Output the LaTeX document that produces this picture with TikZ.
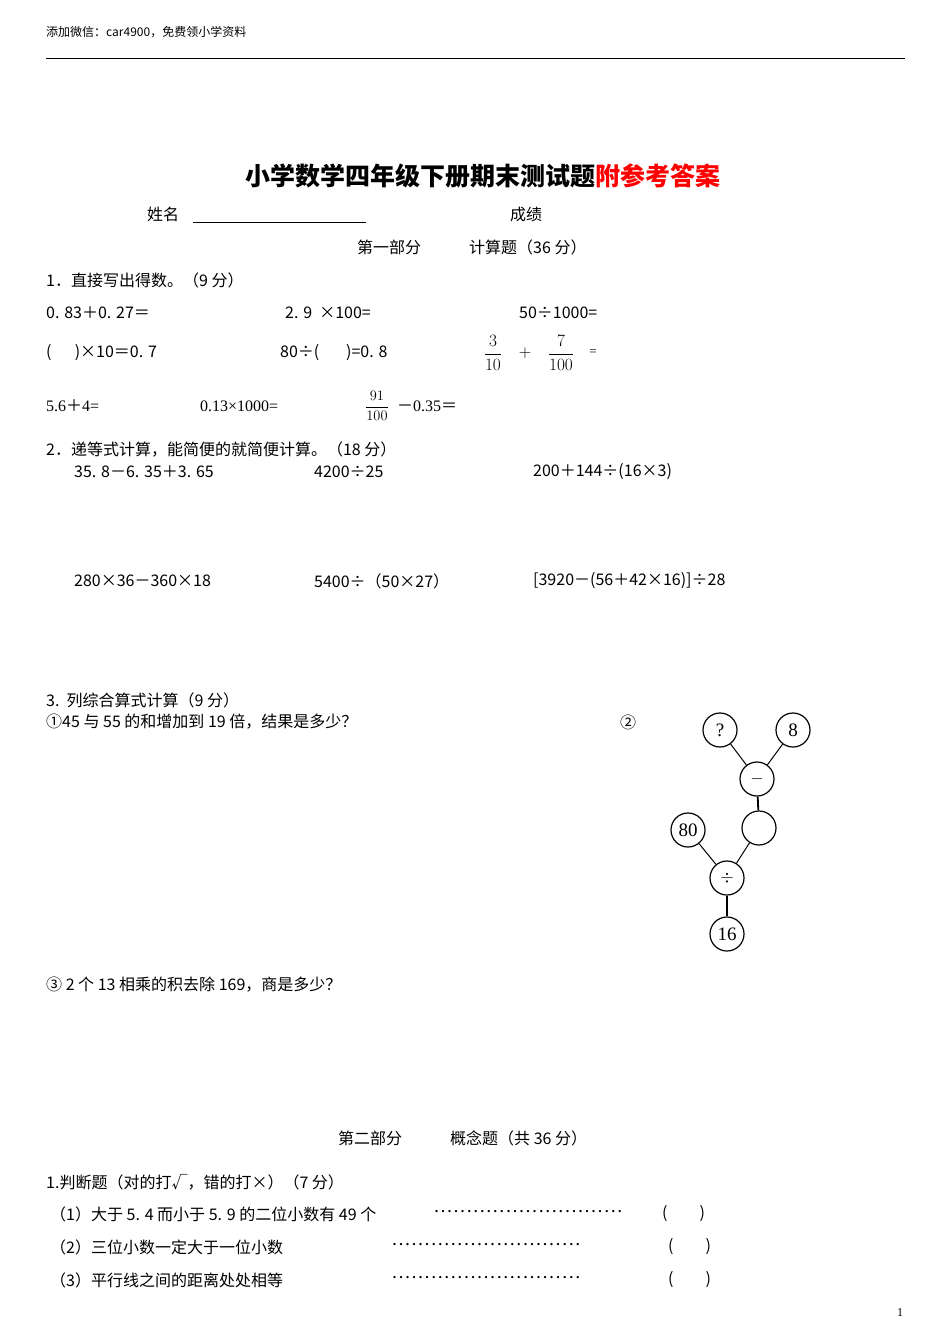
\documentclass[tikz,border=0pt]{standalone}
\usepackage{fontspec}
\setmainfont{Liberation Serif}
\newfontfamily\cjk{Noto Sans CJK SC}
\newcommand\mydots{\hbox to 190pt{\xleaders\hbox to 6.5pt{\hss.\hss}\hfill}}
\begin{document}
\begin{tikzpicture}[x=1pt,y=-1pt,
  t/.style={anchor=west,inner sep=0pt,font=\cjk\fontsize{16}{16}\selectfont},
  n/.style={anchor=west,inner sep=0pt,font=\fontsize{16}{16}\selectfont},
  c/.style={circle,draw,line width=1.2pt,minimum size=34pt,inner sep=0pt,font=\fontsize{19}{19}\selectfont},
  e/.style={line width=1pt},
  dt/.style={anchor=west,inner sep=0pt,font=\fontsize{14}{14}\selectfont\bfseries}]
\useasboundingbox (0,0) rectangle (950,1344);
\node[t,font=\cjk\fontsize{12}{12}\selectfont] (hd) at (46,32) {添加微信：car4900，免费领小学资料};
\draw[line width=0.8pt] (46,58) -- (905,58);
\node[anchor=center,font=\cjk\bfseries\fontsize{25}{25}\selectfont] (title) at (483,176) {小学数学四年级下册期末测试题\textcolor{red}{附参考答案}};
\node[t] (name) at (147,214) {姓名};
\draw[line width=0.8pt] (193,222) -- (366,222);
\node[t] (score) at (510,214) {成绩};
\node[t] (p1) at (357,247) {第一部分\qquad\quad 计算题（36 分）};
\node[t] (q1) at (46,280) {1．直接写出得数。（9 分）};
\node[t] (a1) at (46,313) {0. 83＋0. 27＝};
\node[t] (a2) at (285,313) {2. 9 \ ×100=};
\node[t] (a3) at (519,313) {50÷1000=};
\node[t] (b1) at (46,353) {(\quad\ \ )×10＝0. 7};
\node[t] (b2) at (280,353) {80÷(\quad\ \ \ )=0. 8};
\node[n,anchor=center,font=\fontsize{18}{18}\selectfont] (b3) at (493,353) {$\displaystyle\frac{3}{10}$};
\node[n,anchor=center,font=\fontsize{18}{18}\selectfont] (b4) at (525,353) {$+$};
\node[n,anchor=center,font=\fontsize{18}{18}\selectfont] (b5) at (561,353) {$\displaystyle\frac{7}{100}$};
\node[n,anchor=center,font=\fontsize{13}{13}\selectfont] (b6) at (593,353) {=};
\node[n] (c1) at (46,406) {5.6{\cjk ＋}4=};
\node[n] (c2) at (200,406) {0.13×1000=};
\node[n,anchor=center,font=\fontsize{15}{15}\selectfont] (c3) at (377,406) {$\displaystyle\frac{91}{100}$};
\node[n] (c4) at (397,406) {{\cjk －}0.35{\cjk ＝}};
\node[t] (q2) at (46,450) {2．递等式计算，能简便的就简便计算。（18 分）};
\node[t] (d1) at (74,472) {35. 8－6. 35＋3. 65};
\node[t] (d2) at (314,472) {4200÷25};
\node[t] (d3) at (533,472) {200＋144÷(16×3)};
\node[t] (e1) at (74,581) {280×36－360×18};
\node[t] (e2) at (314,581) {5400÷（50×27）};
\node[t] (e3) at (533,581) {[3920－(56＋42×16)]÷28};
\node[t] (q3) at (46,700) {3.\ \ 列综合算式计算（9 分）};
\node[t] (q31) at (46,722) {①45 与 55 的和增加到 19 倍，结果是多少？};
\node[t] (q32) at (620,722) {②};
\node[c] (qm) at (720,730) {?};
\node[c] (eight) at (793,730) {8};
\node[c] (minus) at (757,779) {$-$};
\node[c] (blank) at (759,828) {};
\node[c] (eighty) at (688,830) {80};
\node[c] (div) at (727,878) {$\div$};
\node[c] (sixteen) at (727,934) {16};
\draw[e] (qm) -- (minus); \draw[e] (eight) -- (minus);
\draw[e,line width=1.8pt] (minus) -- (blank);
\draw[e] (eighty) -- (div); \draw[e] (blank) -- (div);
\draw[e,line width=1.8pt] (div) -- (sixteen);
\node[t] (q33) at (46,985) {③ 2 个 13 相乘的积去除 169，商是多少？};
\node[t] (p2) at (338,1138) {第二部分\qquad\quad 概念题（共 36 分）};
\node[t] (r) at (46,1182) {1.判断题（对的打√，错的打×）（7 分）};
\node[t] (r1) at (50,1214) {（1）大于 5. 4 而小于 5. 9 的二位小数有 49 个};
\node[dt] (r1d) at (433,1212) {\mydots};
\node[t] (r1p) at (662,1214) {(\qquad)};
\node[t] (r2) at (50,1247) {（2）三位小数一定大于一位小数};
\node[dt] (r2d) at (391,1245) {\mydots};
\node[t] (r2p) at (668,1247) {(\qquad)};
\node[t] (r3) at (50,1280) {（3）平行线之间的距离处处相等};
\node[dt] (r3d) at (391,1278) {\mydots};
\node[t] (r3p) at (668,1280) {(\qquad)};
\node[n,font=\fontsize{12}{12}\selectfont] (pg) at (897,1313) {1};
\end{tikzpicture}
\end{document}
